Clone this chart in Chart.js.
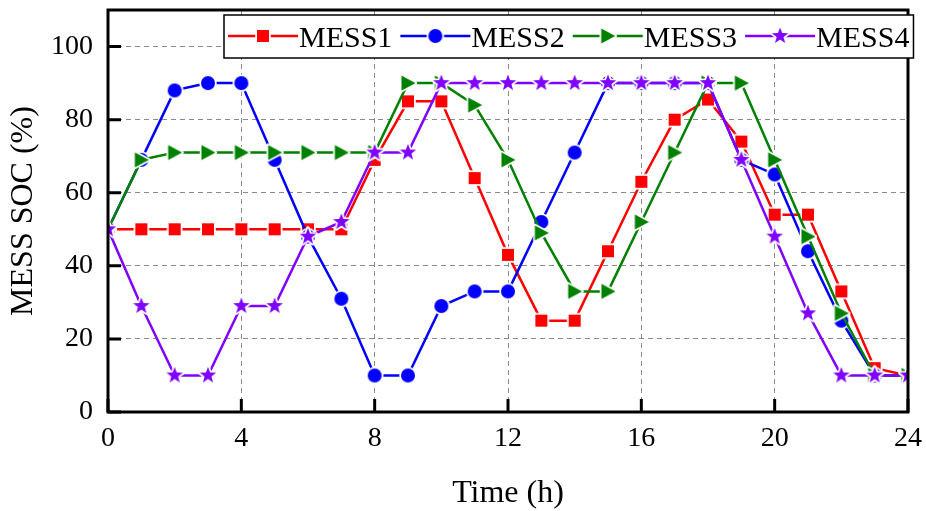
<!DOCTYPE html>
<html><head><meta charset="utf-8">
<script src="https://cdn.jsdelivr.net/npm/chart.js@4.4.0/dist/chart.umd.min.js"></script>
<style>html,body{margin:0;padding:0;background:#fff;}#wrap{width:926px;height:511px;position:relative;}</style>
</head><body><div id="wrap"><canvas id="c" width="926" height="511"></canvas></div>
<script>
const hours = [0,1,2,3,4,5,6,7,8,9,10,11,12,13,14,15,16,17,18,19,20,21,22,23,24];
const mess1 = [50,50,50,50,50,50,50,50,69,85,85,64,43,25,25,44,63,80,85.5,74,54,54,33,12,10];
const mess2 = [50,69,88,90,90,69,48,31,10,10,29,33,33,52,71,90,90,90,90,69,65,44,25,10,10];
const mess3 = [50,69,71,71,71,71,71,71,71,90,90,84,69,49,33,33,52,71,90,90,69,48,27,10,10];
const mess4 = [50,29,10,10,29,29,48,52,71,71,90,90,90,90,90,90,90,90,90,69,48,27,10,10,10];
const seriesNames = ['MESS1','MESS2','MESS3','MESS4'];
const xTicks = [0,4,8,12,16,20,24];
const yTicks = [0,20,40,60,80,100];
const xTitle = 'Time (h)';
const yTitle = 'MESS SOC (%)';

const FONT = '"Liberation Serif","Times New Roman",serif';
const colors = ['#ff0000','#0000ff','#008000','#8000ff'];
const kinds = ['square','circle','triangle','star'];

function makeMarker(kind, color){
  const s = 24, c = document.createElement('canvas');
  c.width = s; c.height = s;
  const g = c.getContext('2d');
  const cx = s/2, cy = s/2;
  g.beginPath();
  if (kind === 'square') { g.rect(cx-6, cy-6, 12, 12); }
  else if (kind === 'circle') { g.arc(cx, cy, 7, 0, Math.PI*2); }
  else if (kind === 'triangle') { g.moveTo(cx+7.5, cy); g.lineTo(cx-6.5, cy-7.5); g.lineTo(cx-6.5, cy+7.5); g.closePath(); }
  else { for (let i=0;i<10;i++){ const r = i%2 ? 3.6 : 8.6; const a = -Math.PI/2 + i*Math.PI/5; g.lineTo(cx + r*Math.cos(a), cy + r*Math.sin(a)); } g.closePath(); }
  g.strokeStyle = '#fff'; g.lineWidth = 3.5; g.lineJoin = 'round'; g.stroke();
  g.fillStyle = color; g.fill();
  return c;
}
const markers = kinds.map((k,i)=>makeMarker(k, colors[i]));
const seriesValues = [mess1, mess2, mess3, mess4];

const datasets = seriesValues.map((vals,i)=>({
  label: seriesNames[i],
  data: hours.map((h,j)=>({x:h, y:vals[j]})),
  borderColor: colors[i],
  backgroundColor: colors[i],
  borderWidth: 2.5,
  pointStyle: markers[i],
  pointRadius: 7,
  pointHoverRadius: 7,
  tension: 0,
  order: 4 - i
}));

const framePlugin = {
  id: 'frame',
  afterDraw(chart){
    const {ctx, chartArea:a, scales:{x, y}} = chart;
    ctx.save();
    ctx.strokeStyle = '#000';
    ctx.lineWidth = 3;
    ctx.strokeRect(a.left, a.top, a.right - a.left, a.bottom - a.top);
    ctx.beginPath();
    yTicks.forEach(v=>{ const py = y.getPixelForValue(v); ctx.moveTo(a.left, py); ctx.lineTo(a.left + 13, py); });
    xTicks.forEach(v=>{ const px = x.getPixelForValue(v); ctx.moveTo(px, a.bottom); ctx.lineTo(px, a.bottom - 13); });
    ctx.stroke();
    // legend
    ctx.font = '30px ' + FONT;
    const left = 224, top = 15, h = 43, ly = 36;
    let sx = 228;
    const items = [];
    seriesNames.forEach((n,i)=>{
      const tw = ctx.measureText(n).width;
      items.push({sx, tw});
      sx = sx + 71 + tw + 8;
    });
    const right = sx - 8 + 4;
    ctx.fillStyle = '#fff';
    ctx.fillRect(left, top, right - left, h);
    ctx.lineWidth = 1.5;
    ctx.strokeStyle = '#000';
    ctx.strokeRect(left, top, right - left, h);
    items.forEach((it,i)=>{
      ctx.strokeStyle = colors[i];
      ctx.lineWidth = 2.5;
      ctx.beginPath(); ctx.moveTo(it.sx, ly); ctx.lineTo(it.sx + 70, ly); ctx.stroke();
      ctx.drawImage(markers[i], it.sx + 35 - markers[i].width/2, ly - markers[i].height/2);
      ctx.fillStyle = '#000';
      ctx.textBaseline = 'alphabetic';
      ctx.textAlign = 'left';
      ctx.fillText(seriesNames[i], it.sx + 71, 47);
    });
    ctx.restore();
  }
};

const gridDash = {color:(c)=>{const v=c.tick&&c.tick.value; return (v===undefined||v<=0||v>=c.scale.max)?'rgba(0,0,0,0)':'#8a8a8a';}, lineWidth:1, drawTicks:false};
function noPad(s){ s.paddingTop = 0; s.paddingBottom = 0; s.paddingLeft = 0; s.paddingRight = 0; }

new Chart(document.getElementById('c'), {
  type: 'line',
  data: { datasets },
  options: {
    responsive: false,
    animation: false,
    devicePixelRatio: 1,
    layout: { padding: { left: 0, right: 18, top: 10, bottom: 0 } },
    plugins: { legend: { display: false }, tooltip: { enabled: false } },
    events: [],
    scales: {
      x: {
        type: 'linear', min: 0, max: 24,
        afterBuildTicks: s => { s.ticks = xTicks.map(v=>({value:v})); },
        afterFit: s => { s.height = 99; noPad(s); },
        border: { display: false, dash: [5,4] },
        grid: gridDash,
        ticks: { font: { family: FONT, size: 28 }, color: '#000', padding: 10, maxRotation: 0, autoSkip: false },
        title: { display: true, text: xTitle, font: { family: FONT, size: 32 }, color: '#000', padding: { top: 0, bottom: -2 } }
      },
      y: {
        type: 'linear', min: 0, max: 110,
        afterBuildTicks: s => { s.ticks = yTicks.map(v=>({value:v})); },
        afterFit: s => { s.width = 108; noPad(s); },
        border: { display: false, dash: [5,4] },
        grid: gridDash,
        ticks: { font: { family: FONT, size: 28 }, color: '#000', padding: 15 },
        title: { display: true, text: yTitle, font: { family: FONT, size: 32 }, color: '#000', padding: { top: 4, bottom: 0 } }
      }
    }
  },
  plugins: [framePlugin]
});
</script>
</body></html>
